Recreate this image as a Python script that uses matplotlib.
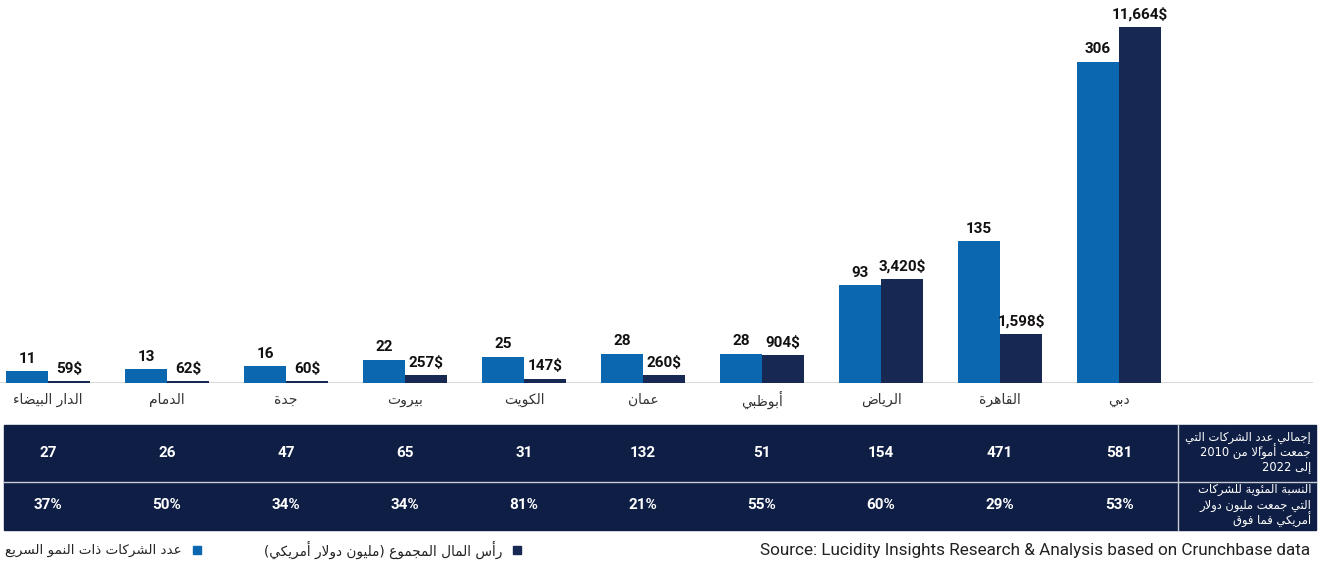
import numpy as np
import matplotlib
matplotlib.use("Agg")
import matplotlib.pyplot as plt
import matplotlib.transforms as mtransforms
from matplotlib.patches import Rectangle

# data (cities left to right as drawn)
cities = ["الدار البيضاء", "الدمام", "جدة", "بيروت", "الكويت", "عمان", "أبوظبي", "الرياض", "القاهرة", "دبي"]
fast_growth = [11, 13, 16, 22, 25, 28, 28, 93, 135, 306]
capital_musd = [59, 62, 60, 257, 147, 260, 904, 3420, 1598, 11664]
funded_total = [27, 26, 47, 65, 31, 132, 51, 154, 471, 581]
pct_over_1m = [37, 50, 34, 34, 81, 21, 55, 60, 29, 53]
row_labels = [["إجمالي عدد الشركات التي", "جمعت أموالاً من 2010", "إلى 2022"],
              ["النسبة المئوية للشركات", "التي جمعت مليون دولار", "أمريكي فما فوق"]]
legend_labels = ["عدد الشركات ذات النمو السريع", "رأس المال المجموع (مليون دولار أمريكي)"]
source_text = "Source: Lucidity Insights Research & Analysis based on Crunchbase data"

BLUE = "#0c67b1"
NAVY = "#172852"
TABLE_BG = "#0f1e44"

# --- minimal arabic shaping + rtl ordering (matplotlib 3.10 has no text shaping) ---
DUAL = {0x626: 0xFE89, 0x628: 0xFE8F, 0x62A: 0xFE95, 0x62B: 0xFE99, 0x62C: 0xFE9D, 0x62D: 0xFEA1,
        0x62E: 0xFEA5, 0x633: 0xFEB1, 0x634: 0xFEB5, 0x635: 0xFEB9, 0x636: 0xFEBD, 0x637: 0xFEC1,
        0x638: 0xFEC5, 0x639: 0xFEC9, 0x63A: 0xFECD, 0x641: 0xFED1, 0x642: 0xFED5, 0x643: 0xFED9,
        0x644: 0xFEDD, 0x645: 0xFEE1, 0x646: 0xFEE5, 0x647: 0xFEE9, 0x64A: 0xFEF1}
RIGHT = {0x622: 0xFE81, 0x623: 0xFE83, 0x624: 0xFE85, 0x625: 0xFE87, 0x627: 0xFE8D, 0x629: 0xFE93,
         0x62F: 0xFEA9, 0x630: 0xFEAB, 0x631: 0xFEAD, 0x632: 0xFEAF, 0x648: 0xFEED, 0x649: 0xFEEF}
NONJOIN = {0x621: 0xFE80}
LAM_ALEF = {0x622: 0xFEF5, 0x623: 0xFEF7, 0x625: 0xFEF9, 0x627: 0xFEFB}


def is_mark(c):
    return 0x64B <= ord(c) <= 0x652 or ord(c) == 0x670


def jtype(b):
    if len(b) > 1:
        return "R"  # lam-alef ligature
    o = ord(b)
    return "D" if o in DUAL else "R" if o in RIGHT else "U"


def is_ltr(g):
    return g[0].isascii() and (g[0].isalnum() or g[0] in ",.%$")


def shape_ar(text):
    clusters = []
    for ch in text:
        if is_mark(ch) and clusters:
            clusters[-1][1] += ch
        else:
            clusters.append([ch, ""])
    merged = []
    i = 0
    while i < len(clusters):
        b, m = clusters[i]
        if ord(b) == 0x644 and not m and i + 1 < len(clusters) and ord(clusters[i + 1][0]) in LAM_ALEF:
            merged.append(["LA" + clusters[i + 1][0], clusters[i + 1][1]])
            i += 2
        else:
            merged.append([b, m])
            i += 1
    types = [jtype(b) for b, _ in merged]
    out = []
    for k, (b, m) in enumerate(merged):
        t = types[k]
        prev_joins = k > 0 and types[k - 1] == "D"
        next_joins = t == "D" and k + 1 < len(merged) and types[k + 1] in ("D", "R")
        if t == "U":
            g = chr(NONJOIN.get(ord(b), ord(b)))
        elif len(b) > 1:
            g = chr(LAM_ALEF[ord(b[2])] + (1 if prev_joins else 0))
        elif t == "R":
            g = chr(RIGHT[ord(b)] + (1 if prev_joins else 0))
        else:
            form = (3 if next_joins else 1) if prev_joins else (2 if next_joins else 0)
            g = chr(DUAL[ord(b)] + form)
        out.append(g + m)
    out = out[::-1]
    mirror = {"(": ")", ")": "("}
    res = []
    i = 0
    while i < len(out):
        if is_ltr(out[i]):
            j = i
            while j < len(out) and is_ltr(out[j]):
                j += 1
            res.extend(out[i:j][::-1])
            i = j
        else:
            res.append(mirror.get(out[i], out[i]))
            i += 1
    return "".join(res)


plt.rcParams["font.family"] = ["Roboto", "DejaVu Sans"]
AR_FONT = ["DejaVu Sans"]

W, H = 1321, 565
fig = plt.figure(figsize=(W / 100, H / 100), dpi=100)

# bars axes: baseline at y=383px from top, group pitch 119px, first center at 48px
ax = fig.add_axes([0, 182 / H, 1, 383 / H])
ax2 = ax.twinx()
for a in (ax, ax2):
    a.set_axis_off()
ax.set_xlim(-48 / 119, (W - 48) / 119)
ax.set_ylim(0, 365)
ax2.set_ylim(0, 12550)

x = np.arange(len(cities))
w = 42 / 119
ax.bar(x - w / 2, fast_growth, width=w, color=BLUE, zorder=2)
ax2.bar(x + w / 2, capital_musd, width=w, color=NAVY, zorder=2)
ax.axhline(0, xmin=0, xmax=1312 / W, color="#d9d9d9", lw=1.5, zorder=1)

for xi, v in zip(x, fast_growth):
    ax.annotate(f"{v}", (xi - w / 2, v), xytext=(0, 4), textcoords="offset points",
                ha="center", va="bottom", fontsize=11, fontweight="bold", color="#111111")
for xi, v in zip(x, capital_musd):
    ax2.annotate(f"{v:,}$", (xi + w / 2, v), xytext=(0, 4), textcoords="offset points",
                 ha="center", va="bottom", fontsize=11, fontweight="bold", color="#111111")

# below-axis elements: x in data units, y in figure fraction
bt = mtransforms.blended_transform_factory(ax.transData, fig.transFigure)
ft = fig.transFigure


def fy(px):
    return 1 - px / H


for xi, name in zip(x, cities):
    fig.text(xi, fy(400), shape_ar(name), transform=bt, ha="center", va="center",
             fontsize=10, color="#333333", family=AR_FONT)

# table
fig.patches.append(Rectangle((4 / W, fy(530)), (1316 - 4) / W, (530 - 425) / H,
                             transform=ft, color=TABLE_BG, zorder=-2))
fig.lines.append(plt.Line2D([4 / W, 1316 / W], [fy(481.5)] * 2, transform=ft, color="#c9cdd8", lw=1, zorder=-1))
fig.lines.append(plt.Line2D([1178 / W] * 2, [fy(425), fy(530)], transform=ft, color="#c9cdd8", lw=1, zorder=-1))

for xi, v in zip(x, funded_total):
    fig.text(xi, fy(453), f"{v}", transform=bt, ha="center", va="center",
             fontsize=11, fontweight="bold", color="white", zorder=5)
for xi, v in zip(x, pct_over_1m):
    fig.text(xi, fy(505), f"{v}%", transform=bt, ha="center", va="center",
             fontsize=11, fontweight="bold", color="white", zorder=5)

for top, lines in zip((437, 490), row_labels):
    for k, line in enumerate(lines):
        fig.text(1311 / W, fy(top + 15 * k), shape_ar(line), ha="right", va="center",
                 fontsize=8.3, color="white", family=AR_FONT, zorder=5)

# legend (rtl: square to the right of the text)
for sq_x, txt_x, col, lab, fs in [(193, 182, BLUE, legend_labels[0], 9.7),
                                  (513, 502, NAVY, legend_labels[1], 9.8)]:
    fig.patches.append(Rectangle((sq_x / W, fy(554)), 8 / W, 8 / H, transform=ft, color=col))
    fig.text(txt_x / W, fy(550), shape_ar(lab), ha="right", va="center",
             fontsize=fs, color="#222222", family=AR_FONT)

fig.text(1310 / W, fy(550), source_text, ha="right", va="center", fontsize=12.3, color="#222222")

fig.savefig("out.png", dpi=100)
